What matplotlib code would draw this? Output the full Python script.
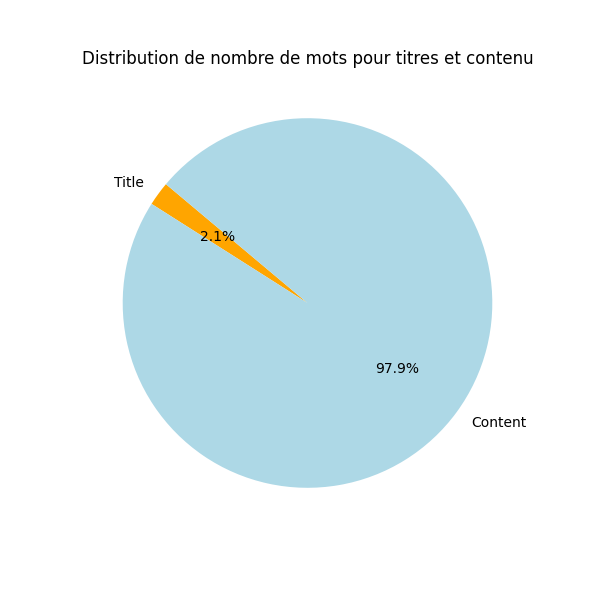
import matplotlib
matplotlib.use("Agg")
import matplotlib.pyplot as plt

labels = ['Title', 'Content']
sizes = [2.1, 97.9]
colors = ['orange', 'lightblue']

fig = plt.figure(figsize=(6, 6), dpi=100)
plt.pie(sizes, labels=labels, colors=colors, autopct='%1.1f%%', startangle=140)
plt.title('Distribution de nombre de mots pour titres et contenu')
plt.savefig('out.png')
